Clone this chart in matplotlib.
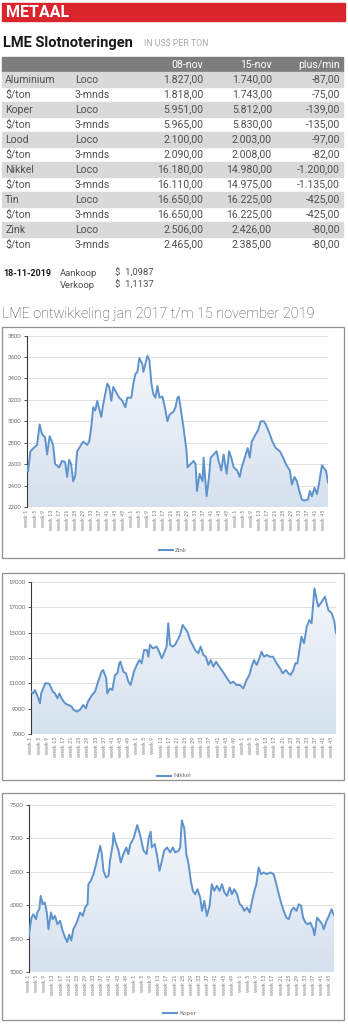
import numpy as np
import matplotlib
matplotlib.use("Agg")
import matplotlib.pyplot as plt
from matplotlib.patches import Rectangle

# ---- table data ----
metals = ["Aluminium", "$/ton", "Koper", "$/ton", "Lood", "$/ton",
          "Nikkel", "$/ton", "Tin", "$/ton", "Zink", "$/ton"]
kinds = ["Loco", "3-mnds"] * 6
col_08nov = [1827, 1818, 5951, 5965, 2100, 2090, 16180, 16110, 16650, 16650, 2506, 2465]
col_15nov = [1740, 1743, 5812, 5830, 2003, 2008, 14980, 14975, 16225, 16225, 2426, 2385]
col_diff = [-87, -75, -139, -135, -97, -82, -1200, -1135, -425, -425, -80, -80]
headers = ["08-nov", "15-nov", "plus/min"]

# ---- koers ----
koers_datum = "18-11-2019"
koers_label = ["Aankoop", "Verkoop"]
koers_waarde = ["$  1,0987", "$  1,1137"]

# ---- chart data (week index from week 1 of 2017) ----
zink_w = [0, 0.5, 1.7, 3.3, 5, 6.3, 7.5, 9, 10, 11.3, 13, 14, 16, 17.5, 19, 20, 21, 22, 23, 24,
          25, 27, 28, 30, 31, 32, 33, 34, 35, 37, 38, 40, 41, 42, 43, 45, 46, 47.5, 49, 50,
          52, 53, 54, 55, 56, 57.5, 58, 60, 61, 62, 63, 64, 65, 66, 67.5, 68.7, 70, 71, 73, 74,
          75, 75.7, 76.5, 78, 79.5, 80, 81.5, 83, 84, 84.7, 86, 87.5, 88, 89.5, 90.7, 91.5, 93,
          94.5, 95.5, 96.8, 98, 99.5, 100.7, 101.8, 103, 104.8, 106, 107, 109, 110, 111, 112,
          114, 115, 116.5, 118, 119, 121, 122.3, 124, 126, 127.7, 129, 131, 132, 133.3, 134.5,
          135.7, 137, 138, 140, 141, 142, 143.3, 144.5, 145.7, 147, 148, 149, 150]
zink_v = [2580, 2530, 2720, 2750, 2780, 2970, 2880, 2850, 2690, 2860, 2780, 2600, 2570, 2630,
          2620, 2480, 2640, 2600, 2440, 2490, 2720, 2780, 2810, 2780, 2810, 2940, 3130, 3100,
          3190, 3040, 3160, 3350, 3320, 3190, 3320, 3250, 3220, 3190, 3130, 3220, 3220, 3350,
          3440, 3460, 3590, 3530, 3460, 3610, 3570, 3350, 3250, 3220, 3330, 3220, 3230, 3130,
          3000, 3060, 3090, 3130, 3220, 3230, 3130, 2940, 2720, 2570, 2600, 2630, 2600, 2350,
          2510, 2440, 2660, 2300, 2480, 2660, 2690, 2720, 2630, 2540, 2690, 2510, 2720, 2660,
          2570, 2540, 2480, 2570, 2690, 2750, 2660, 2810, 2880, 2910, 3000, 3000, 2970, 2880,
          2810, 2750, 2720, 2660, 2600, 2540, 2410, 2480, 2440, 2350, 2270, 2260, 2270, 2350,
          2300, 2380, 2320, 2440, 2590, 2560, 2540, 2430]

nikkel_w = [0, 1, 2, 3.6, 4.4, 5, 7, 8.5, 9.3, 10.7, 11.8, 13, 14, 15, 16.7, 18.4, 20, 21, 22.5,
            24, 25.7, 27, 28, 30, 31.5, 33, 34.7, 35.5, 37, 37.5, 38.8, 40, 41.3, 42.5, 43.4, 44,
            45.4, 46.7, 47.9, 49, 50.6, 52, 53.3, 54.4, 55.6, 57, 57.7, 58.5, 60, 61.8, 63, 64.3,
            65.4, 66.7, 67.5, 68.4, 69.7, 70.8, 72.5, 73.3, 74.6, 75.7, 76.9, 78.2, 79.5, 80.7,
            82.3, 83.4, 84.8, 86, 87.2, 88.4, 89.7, 91, 92, 93.8, 95.4, 97, 98.2, 99.5, 101,
            102.8, 104.4, 106, 107.4, 108.5, 109.7, 111, 112.3, 113.4, 114.6, 116, 117.5, 119,
            120.8, 122.5, 123.8, 125.4, 126.6, 127.7, 129, 130, 131, 132, 133, 134.3, 135.6,
            136.9, 138, 139.4, 140.5, 141.3, 143, 144.6, 146.2, 147.9, 149.2, 150]
nikkel_v = [10350, 10200, 10470, 9820, 9420, 10200, 11000, 11000, 10870, 10350, 10200, 9820,
            10200, 9820, 9420, 9290, 9160, 8900, 8770, 8900, 9290, 9030, 9550, 10080, 10350,
            11130, 11920, 12050, 11400, 10200, 10600, 10470, 11660, 11790, 12580, 12710, 11920,
            11790, 11130, 10870, 11920, 12450, 12840, 12580, 13630, 13630, 13100, 14030, 13760,
            13900, 13500, 12970, 13370, 13900, 15740, 14030, 13900, 14030, 14550, 14820, 15610,
            15350, 15080, 14420, 14030, 13630, 13370, 13900, 13240, 13100, 12450, 12840, 12320,
            12710, 12450, 12050, 11660, 11260, 11000, 11130, 10870, 10870, 10600, 11260, 11660,
            12320, 12840, 12450, 12970, 13500, 13100, 13240, 13100, 13100, 12580, 12180, 11790,
            12050, 11790, 11660, 12050, 12580, 12580, 13630, 14680, 14160, 15470, 16000, 15740,
            18500, 17580, 17050, 17450, 17840, 16790, 16530, 15870, 14950]

koper_w = [0, 0.7, 1.5, 2.4, 3.7, 4.3, 5.3, 6, 7, 8, 9, 9.8, 11, 11.9, 13, 14.2, 15.5, 16.8, 18,
           19, 20, 21, 22, 23.7, 25.3, 26.6, 27.8, 29, 29.4, 30.6, 31.9, 33.2, 34.3, 35.2, 36,
           36.8, 38.1, 39.3, 40, 41.4, 41.7, 42.5, 44.2, 45.3, 46.6, 48, 49, 50, 51.6, 53.4,
           54.8, 56.5, 58, 59, 60, 60.5, 62, 63, 64.3, 65.5, 66.6, 68, 69.6, 70.9, 72, 73.7,
           74.5, 75.3, 76.5, 77.5, 78.6, 79.7, 80.7, 81.9, 83, 84.3, 85.2, 86.3, 87.6, 88.9, 90,
           91.2, 92.5, 93.8, 95, 96.2, 97.5, 98.8, 99.9, 101, 102.4, 103.7, 104.8, 106, 107.3,
           108.6, 109.8, 110.9, 111.9, 113, 114.2, 115.5, 117, 118.8, 120.4, 121.7, 122.9, 124,
           125.3, 126.6, 127.8, 129, 130.2, 131.6, 132.7, 133.9, 134.8, 136, 137.2, 138.4, 139.8,
           140.4, 141.7, 143, 144.2, 145, 146.3, 147.5, 148.8, 150]
koper_v = [5515, 5665, 5815, 5865, 5790, 5890, 5940, 6140, 6015, 6040, 5890, 5640, 5890, 5790,
           5840, 5715, 5765, 5615, 5515, 5450, 5560, 5470, 5640, 5740, 5890, 5840, 5965, 6015,
           6315, 6365, 6465, 6615, 6765, 6890, 6765, 6515, 6415, 6440, 6665, 6915, 7080, 6965,
           6815, 6640, 6765, 6865, 6765, 6915, 7000, 7200, 7050, 6815, 6765, 7000, 7100, 6865,
           6915, 6765, 6515, 6665, 6815, 6865, 6790, 6865, 6790, 6815, 6865, 7270, 7150, 6765,
           6615, 6365, 6215, 6165, 6240, 6115, 5915, 6065, 5840, 5990, 6315, 6215, 6290, 6215,
           6315, 6190, 6140, 6265, 6165, 6240, 6165, 6015, 5990, 5915, 5965, 5890, 6065, 6215,
           6315, 6565, 6465, 6490, 6465, 6490, 6465, 6315, 6165, 6040, 5915, 5815, 5790, 5915,
           5965, 5915, 6015, 5990, 5815, 5740, 5715, 5740, 5640, 5550, 5815, 5765, 5715, 5640,
           5765, 5840, 5940, 5850]

# x tick labels: every 4th week of 2017, 2018, 2019
tick_pos = list(range(0, 49, 4)) + list(range(52, 101, 4)) + list(range(104, 149, 4))
tick_lab = (["week %d" % w for w in range(1, 50, 4)] * 2
            + ["week %d" % w for w in range(1, 46, 4)])

W, H = 348, 1024
line_c = "#5f93cc"
txt_c = "#505050"


def px_rect(x0, y0, x1, y1):
    return [x0 / W, 1 - y1 / H, (x1 - x0) / W, (y1 - y0) / H]


def nl(v):
    s = "{:,.2f}".format(abs(v)).replace(",", "X").replace(".", ",").replace("X", ".")
    return ("-" if v < 0 else "") + s


fig = plt.figure(figsize=(W / 100, H / 100), dpi=100)
bg = fig.add_axes([0, 0, 1, 1])
bg.set_xlim(0, W)
bg.set_ylim(H, 0)
bg.axis("off")

# header bar
bg.add_patch(Rectangle((2, 3), 343, 18, color="#d9252b"))
bg.text(6, 12.5, "METAAL", color="white", fontsize=11.5, fontweight="bold",
        family="Roboto", va="center")
bg.text(3, 43, "LME Slotnoteringen", color="#1a1a1a", fontsize=10.5, fontweight="bold",
        family="Roboto", va="center")
bg.text(144, 44, "IN US$ PER TON", color="#a8a8a8", fontsize=6.3, family="Roboto",
        va="center")

# table
row_h = 15
top = 56.7
bg.add_patch(Rectangle((2, top), 341, row_h, color="#7d7d7d"))
col_x = [203, 272, 340]
fs = 7.6
for x, h in zip(col_x, headers):
    bg.text(x, top + row_h / 2 + 0.5, h, color="white", fontsize=fs, family="Roboto",
            ha="right", va="center")
for i in range(len(metals)):
    y0 = top + row_h * (i + 1)
    if i % 2 == 0:
        bg.add_patch(Rectangle((2, y0), 341, row_h, color="#d9d9d9"))
    yc = y0 + row_h / 2 + 0.5
    bg.text(5, yc, metals[i], color=txt_c, fontsize=fs, family="Roboto", va="center")
    bg.text(75, yc, kinds[i], color=txt_c, fontsize=fs, family="Roboto", va="center")
    for x, col in zip(col_x, [col_08nov, col_15nov, col_diff]):
        bg.text(x, yc, nl(col[i]), color=txt_c, fontsize=fs, family="Roboto",
                ha="right", va="center")

# exchange rates
bg.text(3, 273, koers_datum, color="#1a1a1a", fontsize=6.5, fontweight="bold",
        family="Roboto", va="center")
for k, (lab, val) in enumerate(zip(koers_label, koers_waarde)):
    bg.text(60, 273 + 12 * k, lab, color=txt_c, fontsize=6.8, family="Roboto", va="center")
    bg.text(115, 273 + 12 * k, val, color=txt_c, fontsize=6.8, family="Roboto", va="center")

bg.text(2, 314, "LME ontwikkeling jan 2017 t/m 15 november 2019", color="#444444",
        fontsize=10.4, fontweight="light", family="Roboto", va="center")


def chart(box, plot, weeks, vals, ymin, ymax, step, name, leg_y, leg_x):
    bg.add_patch(Rectangle((box[0], box[1]), box[2] - box[0], box[3] - box[1],
                           facecolor="white", edgecolor="#8f8f8f", lw=0.9))
    ax = fig.add_axes(px_rect(*plot))
    ax.set_xlim(0, 150)
    ax.set_ylim(ymin, ymax)
    ax.set_yticks(np.arange(ymin, ymax + 1, step))
    ax.grid(axis="y", color="#dcdcdc", lw=0.6)
    ax.set_axisbelow(True)
    # gradient fill under the line
    poly = ax.fill_between(weeks, vals, ymin, color="none")
    grad = np.linspace(0, 1, 100).reshape(-1, 1)
    cmap = matplotlib.colors.LinearSegmentedColormap.from_list("g", ["#d6e1ef", "#f4f7fb"])
    im = ax.imshow(grad, cmap=cmap, aspect="auto", origin="lower",
                   extent=[0, 150, ymin, max(vals)], zorder=1)
    im.set_clip_path(poly.get_paths()[0], transform=ax.transData)
    ax.plot(weeks, vals, color=line_c, lw=1.4, zorder=3)
    for s in ["top", "right", "bottom"]:
        ax.spines[s].set_visible(False)
    ax.spines["left"].set_color("#3a3a3a")
    ax.spines["left"].set_linewidth(0.8)
    ax.set_xticks(tick_pos)
    ax.set_xticklabels(tick_lab, rotation=90, fontsize=3.9, color="#7a7a7a", family="Lato")
    ax.tick_params(axis="x", length=0, pad=2)
    ax.tick_params(axis="y", length=2, width=0.6, color="#3a3a3a", labelsize=4.3,
                   labelcolor="#6a6a6a", pad=2)
    for t in ax.get_yticklabels():
        t.set_family("Lato")
    bg.plot([leg_x, leg_x + 14], [leg_y, leg_y], color=line_c, lw=1.5)
    bg.text(leg_x + 16, leg_y, name, fontsize=4.5, color="#6a6a6a", family="Lato",
            va="center")


chart((2, 327, 344, 558), (27, 335.5, 328, 507), zink_w, zink_v, 2200, 3800, 200,
      "Zink", 550, 159)
chart((2, 573, 344, 780), (31, 582, 336, 734), nikkel_w, nikkel_v, 7000, 19000, 2000,
      "Nikkel", 775.5, 157)
chart((2, 793, 344, 1020), (28.5, 805, 334, 972), koper_w, koper_v, 5000, 7500, 500,
      "Koper", 1013, 163)

fig.savefig("out.png", dpi=100)
